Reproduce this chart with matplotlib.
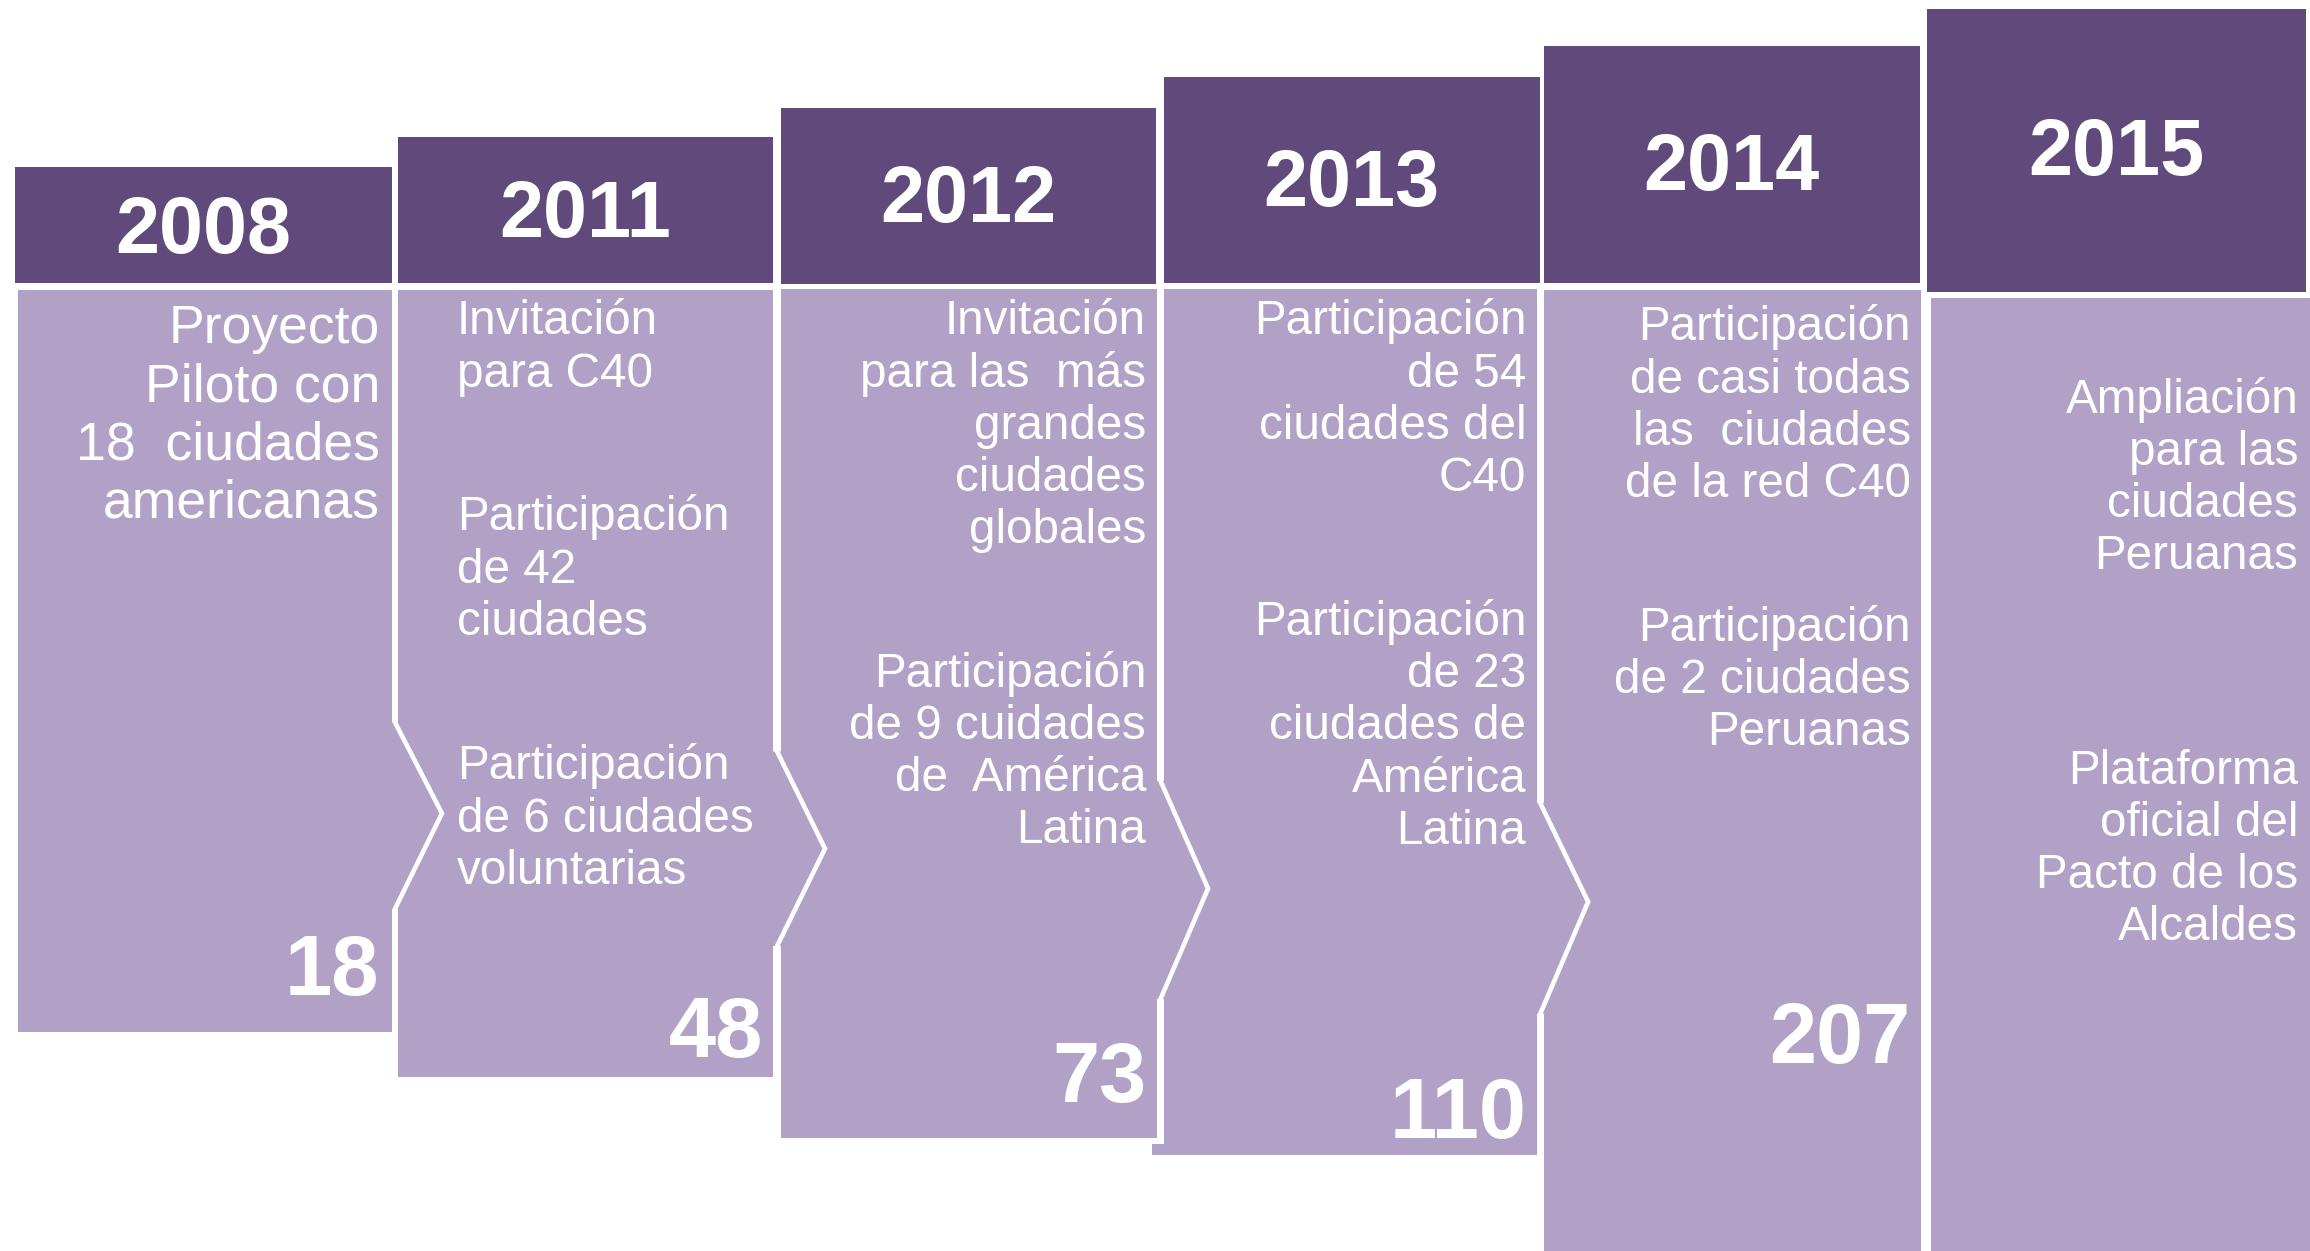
import matplotlib
matplotlib.use("Agg")
import matplotlib.pyplot as plt
from matplotlib.patches import Rectangle, Polygon

# ---------------- data ----------------
years = ["2008", "2011", "2012", "2013", "2014", "2015"]
city_counts = ["18", "48", "73", "110", "207", ""]

notes_2008 = [["Proyecto", "Piloto con", "18  ciudades", "americanas"]]
notes_2011 = [["Invitación", "para C40"],
              ["Participación", "de 42", "ciudades"],
              ["Participación", "de 6 ciudades", "voluntarias"]]
notes_2012 = [["Invitación", "para las  más", "grandes", "ciudades", "globales"],
              ["Participación", "de 9 cuidades", "de  América", "Latina"]]
notes_2013 = [["Participación", "de 54", "ciudades del", "C40"],
              ["Participación", "de 23", "ciudades de", "América", "Latina"]]
notes_2014 = [["Participación", "de casi todas", "las  ciudades", "de la red C40"],
              ["Participación", "de 2 ciudades", "Peruanas"]]
notes_2015 = [["Ampliación", "para las", "ciudades", "Peruanas"],
              ["Plataforma", "oficial del", "Pacto de los", "Alcaldes"]]
notes = [notes_2008, notes_2011, notes_2012, notes_2013, notes_2014, notes_2015]

# ---------------- layout (reference pixel grid 1568 x 849) ----------------
W, H = 1568, 849
DARK = "#5F4A7B"
LIGHT = "#B1A1C7"
FONT = ["Liberation Sans", "DejaVu Sans"]

head_left = [10, 270, 530, 790, 1048, 1308]
head_right = [266, 525, 785, 1045, 1303, 1565]
head_top = [113, 93, 73, 52, 31, 6]
head_bottom = [192, 192, 193, 192, 192, 198]
year_base = [172, 161, 151, 140, 129, 119]

body_left = [12, 270, 530, 790, 1048, 1311]
body_right = [266, 525, 785.5, 1043, 1304, 1568]
body_top = [197, 197, 196, 196, 197, 202]
body_bottom = [700.5, 731, 772.5, 784, 860, 860]

count_base = [675.5, 717.5, 748, 772, 721.5]
count_right = [257.5, 518, 778, 1036, 1296.5]

# chevrons between consecutive bodies: (y start, tip x, tip y, y end)
chevrons = [(490, 300, 552, 617), (510, 560, 576, 642),
            (530, 820, 603, 678), (545, 1078, 612, 688)]

# text blocks: (alignment, x, first baselines per block, pitch, fontsize)
text_layout = [
    ("right", 258, [233], 39.3, 38.5),
    ("left", 310, [227, 360, 529], 35.4, 34.3),
    ("right", 778, [227, 466], 35.4, 34.3),
    ("right", 1036, [227, 431], 35.4, 34.3),
    ("right", 1297, [231, 435], 35.4, 34.3),
    ("right", 1560, [280, 532], 35.4, 34.3),
]

fig = plt.figure(figsize=(23.1, 12.51), dpi=100)
ax = fig.add_axes([0, 0, 1, 1])
ax.set_xlim(0, W)
ax.set_ylim(H, 0)
ax.axis("off")

# 2013 body small extension below 2012 body
ax.add_patch(Rectangle((782, 776.5), 20, 7.5, facecolor=LIGHT, edgecolor="none"))

for i in range(len(years)):
    # header
    ax.add_patch(Rectangle((head_left[i], head_top[i]), head_right[i] - head_left[i],
                           head_bottom[i] - head_top[i], facecolor=DARK, edgecolor="none"))
    # body
    ax.add_patch(Rectangle((body_left[i], body_top[i]), body_right[i] - body_left[i],
                           body_bottom[i] - body_top[i], facecolor=LIGHT, edgecolor="none",
                           zorder=2 if i == 2 else 1))
    ax.text((head_left[i] + head_right[i]) / 2, year_base[i], years[i], ha="center",
            va="baseline", color="white", fontsize=57, fontweight="bold", family=FONT, zorder=5)

# white outline of 2012 body over the 2013 extension
ax.plot([787.5, 787.5, 782], [700, 774.5, 774.5], color="white", lw=3.0, zorder=3,
        solid_joinstyle="miter")

for i, (y1, tx, ty, y2) in enumerate(chevrons):
    r, l = body_right[i], body_left[i + 1]
    xg = (r + l) / 2
    ax.add_patch(Polygon([(r - 1, y1), (l + 1, y1), (tx, ty), (l + 1, y2), (r - 1, y2)],
                         closed=True, facecolor=LIGHT, edgecolor="none", zorder=3))
    ax.plot([xg, xg, tx, xg, xg], [y1 - 30, y1, ty, y2, y2 + 30], color="white", lw=3.3,
            zorder=4, solid_joinstyle="miter")

for i, blocks in enumerate(notes):
    align, x, bases, pitch, fs = text_layout[i]
    for lines, b in zip(blocks, bases):
        for k, line in enumerate(lines):
            ax.text(x, b + k * pitch, line, ha=align, va="baseline", color="white",
                    fontsize=fs, family=FONT, zorder=5)

for i, c in enumerate(city_counts):
    if c:
        ax.text(count_right[i], count_base[i], c, ha="right", va="baseline", color="white",
                fontsize=61, fontweight="bold", family=FONT, zorder=5)

fig.savefig("out.png", dpi=100, facecolor="white")
